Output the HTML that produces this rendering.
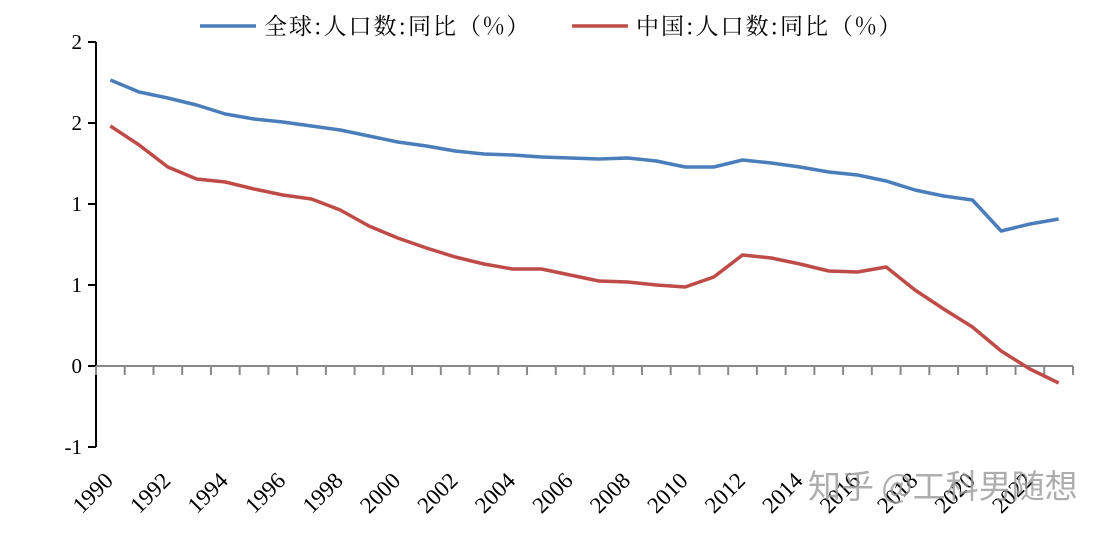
<!DOCTYPE html>
<html><head><meta charset="utf-8"><style>
body{margin:0;background:#fff;width:1108px;height:533px;overflow:hidden}
</style></head><body>
<svg width="1108" height="533" xmlns="http://www.w3.org/2000/svg" font-family="'Liberation Serif','Noto Serif CJK SC',serif">
<rect width="1108" height="533" fill="#fff"/>
<g stroke="#000" stroke-width="2">
<line x1="96" y1="42" x2="96" y2="447"/>
<line x1="88" y1="42" x2="96" y2="42"/><line x1="88" y1="123" x2="96" y2="123"/><line x1="88" y1="204" x2="96" y2="204"/><line x1="88" y1="285" x2="96" y2="285"/><line x1="88" y1="366" x2="96" y2="366"/><line x1="88" y1="447" x2="96" y2="447"/>
</g>
<g font-size="21" text-anchor="end" fill="#000">
<text x="82" y="49">2</text><text x="82" y="130">2</text><text x="82" y="211">1</text><text x="82" y="292">1</text><text x="82" y="373">0</text><text x="82" y="454">-1</text>
</g>
<g stroke="#888" stroke-width="2">
<line x1="96" y1="366" x2="1073" y2="366"/>
</g>
<g id="ticks" stroke="#888" stroke-width="2"></g>
<g id="labs" font-size="23" fill="#000"></g>
<polyline id="blue" fill="none" stroke="#4a7ebb" stroke-width="3.5" stroke-linejoin="round"/>
<polyline id="red" fill="none" stroke="#be4b48" stroke-width="3.5" stroke-linejoin="round"/>
<line x1="200" y1="26" x2="256" y2="26" stroke="#4a7ebb" stroke-width="3.5"/>
<text x="264" y="34" font-size="23" letter-spacing="2" font-family="'Noto Serif CJK SC',serif">全球:人口数:同比（%）</text>
<line x1="572" y1="26" x2="628" y2="26" stroke="#be4b48" stroke-width="3.5"/>
<text x="636" y="34" font-size="23" letter-spacing="2" font-family="'Noto Serif CJK SC',serif">中国:人口数:同比（%）</text>
<text x="808" y="498" font-size="33" fill="#999" fill-opacity="0.8" font-family="'Noto Sans CJK SC',sans-serif">知乎 @工科男随想</text>
</svg>
<script>
const b=[80,92,98,105,114,119,122,126,130,136,142,146,151,154,155,157,158,159,158,161,167,167,160,163,167,172,175,181,190,196,200,231,224,219];
const r=[126,145,167,179,182,189,195,199,210,226,238,248,257,264,269,269,275,281,282,285,287,277,255,258,264,271,272,267,290,309,327,351,369,383];
const s=(1073-96)/34,x=i=>96+s*(i+0.5);
document.getElementById('blue').setAttribute('points',b.map((y,i)=>x(i)+','+y).join(' '));
document.getElementById('red').setAttribute('points',r.map((y,i)=>x(i)+','+y).join(' '));
let t='',l='';
for(let i=0;i<=34;i++){const xx=96+s*i;t+=`<line x1="${xx}" y1="366" x2="${xx}" y2="375"/>`;}
for(let i=0;i<34;i+=2){const xx=x(i)+4;l+=`<text transform="translate(${xx},482) rotate(-45)" text-anchor="end">${1990+i}</text>`;}
document.getElementById('ticks').innerHTML=t;document.getElementById('labs').innerHTML=l;
</script>
</body></html>
